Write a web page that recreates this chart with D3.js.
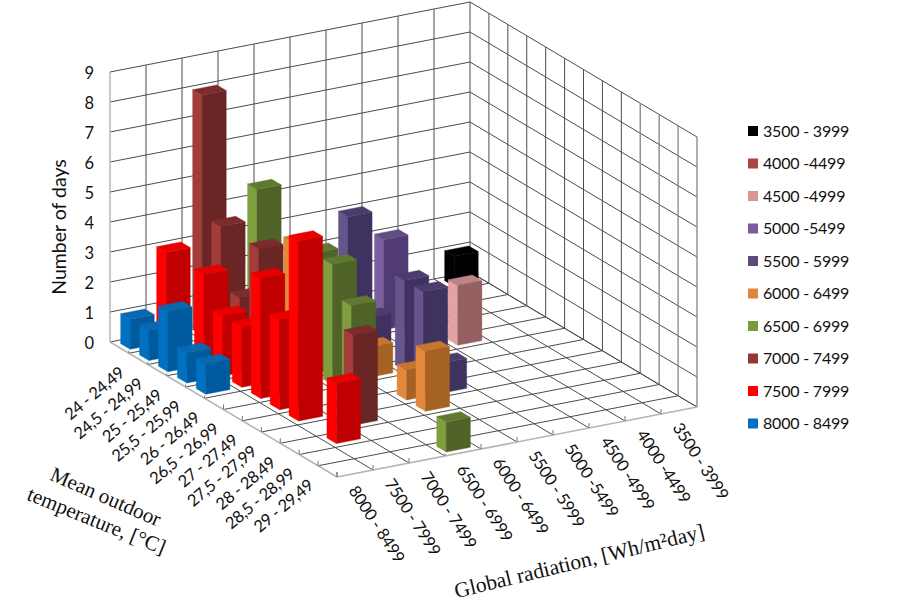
<!DOCTYPE html>
<html><head><meta charset="utf-8">
<script src="https://cdn.jsdelivr.net/npm/d3@7"></script>
<style>html,body{margin:0;padding:0;background:#fff}svg{display:block}</style>
</head><body><svg id="c" width="920" height="607"></svg>
<script>
const temperatureLabels = ["24 - 24,49","24,5 - 24,99","25 - 25,49","25,5 - 25,99","26 - 26,49","26,5 - 26,99","27 - 27,49","27,5 - 27,99","28 - 28,49","28,5 - 28,99","29 - 29,49",""];
const radiationLabels = ["8000 - 8499","7500 - 7999","7000 - 7499","6500 - 6999","6000 - 6499","5500 - 5999","5000 -5499","4500 -4999","4000 -4499","3500 - 3999"];
const legendLabels = ["3500 - 3999","4000 -4499","4500 -4999","5000 -5499","5500 - 5999","6000 - 6499","6500 - 6999","7000 - 7499","7500 - 7999","8000 - 8499"];
const countTicks = [0,1,2,3,4,5,6,7,8,9];

// days per temperature class, one array per radiation class
const days8000 = [1,1,2,1,1,0,0,0,0,0,0,0];
const days7500 = [3,0,3,2,2,4,3,6,0,2,0,0];
const days7000 = [8,4,2,4,0,0,0,0,3,0,0,0];
const days6500 = [0,5,0,0,4,4,3,0,0,0,0,1];
const days6000 = [0,3,0,0,0,1,0,1,2,0,0,0];
const days5500 = [0,0,4,1,0,3,3,1,0,0,0,0];
const days5000 = [0,0,3,0,0,0,0,0,0,0,0,0];
const days4500 = [0,0,0,0,2,0,0,0,0,0,0,0];
const days4000 = [0,0,0,0,0,0,0,0,0,0,0,0];
const days3500 = [1,0,0,0,0,0,0,0,0,0,0,0];
const seriesValues = [days8000,days7500,days7000,days6500,days6000,days5500,days5000,days4500,days4000,days3500];

// palette: [left face, right face, top face]
const palette = [
  ["#0070C0","#005A9E","#0A68B0"],
  ["#FF0000","#C00000","#E80000"],
  ["#A43C3C","#6A2525","#7C2C2C"],
  ["#7F9F3F","#4F6228","#5F7A30"],
  ["#E3883C","#A66222","#C67630"],
  ["#66548C","#3F3160","#4C3C6C"],
  ["#7A5F9C","#503C72","#604C84"],
  ["#E3A3A5","#946062","#BE8486"],
  ["#AA4643","#7A2E2C","#8C3836"],
  ["#000000","#000000","#000000"]
];
const legendColors = ["#000000","#AA4643","#D99694","#7B5C9E","#5F497A","#E0853C","#7A9A3C","#953735","#FF0000","#0070C0"];

const svg = d3.select("#c");
const nT = temperatureLabels.length, nR = radiationLabels.length;

// oblique 3D projection built from linear scales
const tX = d3.scaleLinear([0,nT],[0,227]), tY = d3.scaleLinear([0,nT],[0,135]);
const rX = d3.scaleLinear([0,nR],[0,360]), rY = d3.scaleLinear([0,nR],[0,-70]);
const zY = d3.scaleLinear([0,9],[0,-270]);
const origin = [110,342];
const P = (t,r,z=0) => [origin[0]+tX(t)+rX(r), origin[1]+tY(t)+rY(r)+zY(z)];
const line = d3.line();

const grid = svg.append("g").attr("fill","none");
const seg = (a,b,c,w) => grid.append("path").attr("d",line([a,b])).attr("stroke",c).attr("stroke-width",w);
const dark = "#4c4c4c", edge = "#b4b4b4";

// walls
countTicks.forEach(z => {
  seg(P(0,0,z),P(0,nR,z),dark,1);
  seg(P(0,nR,z),P(nT,nR,z),dark,1);
});
d3.range(0,nR+1).forEach(r => seg(P(0,r,0),P(0,r,9), r===0?edge:dark, r===0?1.5:1));
d3.range(1,nT+1).forEach(t => seg(P(t,nR,0),P(t,nR,9), t>=9?"#8c8c8c":dark, t>=9?1.4:1));
// floor
d3.range(1,nR).forEach(r => seg(P(0,r),P(nT,r),dark,1));
d3.range(1,nT).forEach(t => seg(P(t,0),P(t,nR),dark,1));
seg(P(nT,nR),P(0,nR),dark,1);
seg(P(0,0),P(nT,0),edge,1.6);
seg(P(nT,0),P(nT,nR),edge,1.6);
// tick marks
d3.range(1,nT+1).forEach(t => { const p=P(t,0); seg(p,[p[0],p[1]-5],"#777",1); });
d3.range(0,nR).forEach(r => { const p=P(nT,r); seg(p,[p[0],p[1]-5],"#777",1); });

// bars, painted back to front
const wT = 0.5, wR = 0.67;
const cells = [];
seriesValues.forEach((vals,r) => vals.forEach((v,t) => { if (v>0) cells.push({t,r,v}); }));
cells.sort((a,b) => d3.descending(a.r,b.r) || d3.ascending(a.t,b.t));
const bars = svg.append("g");
cells.forEach(d => {
  const t0=d.t+(1-wT)/2, t1=t0+wT, r0=d.r+(1-wR)/2, r1=r0+wR, c=palette[d.r];
  const g=bars.append("g");
  // soft white halo along the foot of the bar only
  g.append("path").attr("d",line([P(t0,r0),P(t1,r0),P(t1,r1)])).attr("fill","none").attr("stroke","#fff").attr("stroke-width",3.5);
  g.append("path").attr("d",line([P(t0,r0),P(t1,r0),P(t1,r0,d.v),P(t0,r0,d.v)])+"Z").attr("fill",c[0]).attr("stroke",c[0]).attr("stroke-width",.4);
  g.append("path").attr("d",line([P(t1,r0),P(t1,r1),P(t1,r1,d.v),P(t1,r0,d.v)])+"Z").attr("fill",c[1]).attr("stroke",c[1]).attr("stroke-width",.4);
  g.append("path").attr("d",line([P(t0,r0,d.v),P(t1,r0,d.v),P(t1,r1,d.v),P(t0,r1,d.v)])+"Z").attr("fill",c[2]).attr("stroke",c[2]).attr("stroke-width",.4);
});

const sans = "Lato, 'Open Sans', sans-serif", serif = "'Liberation Serif', serif";
const labels = svg.append("g").attr("fill","#111");

// count axis
labels.selectAll(".cnt").data(countTicks).join("text")
  .attr("x",94).attr("y",d=>P(0,0,d)[1]+7).attr("text-anchor","end")
  .attr("font-family",sans).attr("font-size",16.5).text(d=>d);
labels.append("text").attr("transform","translate(66,227) rotate(-90)").attr("text-anchor","middle")
  .attr("font-family",sans).attr("font-size",19.5).text("Number of days");

// temperature axis labels
temperatureLabels.forEach((s,i) => {
  if(!s) return;
  const p=P(i+.5,0);
  labels.append("text").attr("transform",`translate(${p[0]+6},${p[1]+27}) rotate(-40)`)
    .attr("text-anchor","end").attr("font-family",sans).attr("font-size",16.5).attr("letter-spacing",-0.4).text(s);
});
// radiation axis labels
radiationLabels.forEach((s,j) => {
  const p=P(nT,j+.5);
  labels.append("text").attr("transform",`translate(${p[0]-7},${p[1]+17}) rotate(57)`)
    .attr("text-anchor","start").attr("font-family",sans).attr("font-size",16.5).attr("letter-spacing",-0.3).text(s);
});

// axis titles
labels.append("text").attr("transform","translate(103,503) rotate(23.5)").attr("text-anchor","middle")
  .attr("font-family",serif).attr("font-size",21).text("Mean outdoor");
labels.append("text").attr("transform","translate(94,527) rotate(22)").attr("text-anchor","middle")
  .attr("font-family",serif).attr("font-size",21).text("temperature, [°C]");
labels.append("text").attr("transform","translate(581,568) rotate(-13.6)").attr("text-anchor","middle")
  .attr("font-family",serif).attr("font-size",21.5).text("Global radiation, [Wh/m²day]");

// legend
const ly = d3.scalePoint().domain(legendLabels).range([131,423.5]);
const leg = svg.append("g");
leg.selectAll("rect").data(legendLabels).join("rect")
  .attr("x",748).attr("y",d=>ly(d)-5).attr("width",10).attr("height",10)
  .attr("fill",(d,i)=>legendColors[i]);
leg.selectAll("text").data(legendLabels).join("text")
  .attr("x",763).attr("y",d=>ly(d)+5.5).attr("font-family",sans).attr("font-size",16).attr("letter-spacing",-0.2).attr("fill","#111").text(d=>d);
</script></body></html>
